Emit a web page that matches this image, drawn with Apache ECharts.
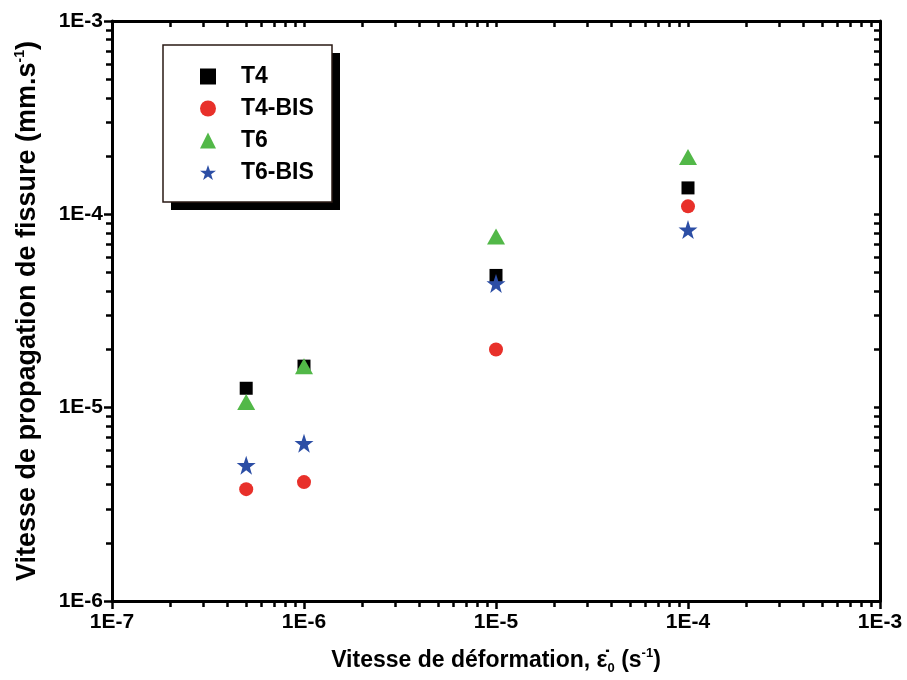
<!DOCTYPE html>
<html>
<head>
<meta charset="utf-8">
<script src="https://cdn.jsdelivr.net/npm/echarts@6/dist/echarts.min.js"></script>
<style>html,body{margin:0;padding:0;background:#fff;}#c{width:907px;height:680px;}</style>
</head>
<body>
<div id="c"></div>
<script>
// ---- data ----
const xValues = [5e-7, 1e-6, 1e-5, 1e-4];
const t4 = [1.26e-5, 1.64e-5, 4.83e-5, 1.37e-4];
const t4bis = [3.79e-6, 4.12e-6, 2.0e-5, 1.10e-4];
const t6 = [1.07e-5, 1.64e-5, 7.67e-5, 1.98e-4];
const t6bis = [5.04e-6, 6.55e-6, 4.39e-5, 8.34e-5];
const seriesNames = ['T4', 'T4-BIS', 'T6', 'T6-BIS'];
const xDecades = [1e-7, 1e-6, 1e-5, 1e-4, 1e-3];
const yDecades = [1e-6, 1e-5, 1e-4, 1e-3];

function minors(decs) {
  const out = [];
  for (let i = 0; i < decs.length - 1; i++) {
    for (let k = 2; k <= 9; k++) out.push(k * decs[i]);
  }
  return out;
}
const xMinor = minors(xDecades);
const yMinor = minors(yDecades);

const FONT = "'Liberation Sans', Arial, sans-serif";
const fmt = v => '1E' + Math.round(Math.log10(v));

const STAR = 'path://M50,0 L61.8,35.1 L98.1,35.1 L68.8,56.7 L79.4,91 L50,70 L20.6,91 L31.2,56.7 L1.9,35.1 L38.2,35.1 Z';

const chart = echarts.init(document.getElementById('c'));

function baseAxis(min, max) {
  return { type: 'log', logBase: 10, min: min, max: max, splitLine: { show: false } };
}

const xMin = 1e-7, xMax = 1e-3, yMin = 1e-6, yMax = 1e-3;

const option = {
  backgroundColor: '#fff',
  animation: false,
  grid: { left: 112, right: 27, top: 21, bottom: 77 },
  graphic: [
    { type: 'rect', z: 1, shape: { x: 171, y: 53, width: 169, height: 157 }, style: { fill: '#000' } },
    { type: 'rect', z: 2, shape: { x: 163, y: 45, width: 169, height: 157 }, style: { fill: '#fff', stroke: '#2a1a14', lineWidth: 1.5 } }
  ],
  legend: {
    orient: 'vertical',
    left: 163, top: 45,
    padding: [20, 10, 10, 37],
    itemGap: 9,
    itemWidth: 16, itemHeight: 16,
    z: 10,
    textStyle: { fontFamily: FONT, fontWeight: 'bold', fontSize: 23, color: '#000', padding: [0, 0, 0, 20], lineHeight: 21 },
    data: seriesNames
  },
  xAxis: [
    Object.assign(baseAxis(xMin, xMax), {
      position: 'bottom',
      name: 'Vitesse de déformation, ε̇{sub|0} (s{sup|-1})',
      nameLocation: 'middle', nameGap: 46,
      nameTextStyle: { fontFamily: FONT, fontWeight: 'bold', fontSize: 23, color: '#000', lineHeight: 28,
        rich: {
          sub: { fontFamily: FONT, fontWeight: 'bold', fontSize: 13, lineHeight: 12, verticalAlign: 'bottom', color: '#000' },
          sup: { fontFamily: FONT, fontWeight: 'bold', fontSize: 13, lineHeight: 12, verticalAlign: 'top', color: '#000' }
        } },
      axisLine: { show: true, onZero: false, lineStyle: { color: '#000', width: 3 } },
      axisTick: { show: true, inside: false, length: 8, lineStyle: { color: '#000', width: 2.5 }, customValues: xDecades },
      axisLabel: { show: true, margin: 11, fontFamily: FONT, fontWeight: 'bold', fontSize: 21, color: '#000', formatter: fmt, customValues: xDecades }
    }),
    Object.assign(baseAxis(xMin, xMax), {
      position: 'bottom',
      axisLine: { show: false, onZero: false },
      axisTick: { show: true, inside: false, length: 6, lineStyle: { color: '#000', width: 2.5 }, customValues: xMinor },
      axisLabel: { show: false }
    }),
    Object.assign(baseAxis(xMin, xMax), {
      position: 'top',
      axisLine: { show: true, onZero: false, lineStyle: { color: '#000', width: 3 } },
      axisTick: { show: true, inside: true, length: 6, lineStyle: { color: '#000', width: 2.5 }, customValues: xMinor.concat(xDecades) },
      axisLabel: { show: false }
    })
  ],
  yAxis: [
    Object.assign(baseAxis(yMin, yMax), {
      position: 'left',
      name: 'Vitesse de propagation de fissure (mm.s{sup|-1})',
      nameLocation: 'middle', nameGap: 69, nameRotate: 90,
      nameTextStyle: { fontFamily: FONT, fontWeight: 'bold', fontSize: 27, color: '#000', lineHeight: 30,
        rich: {
          sup: { fontFamily: FONT, fontWeight: 'bold', fontSize: 14, lineHeight: 13, verticalAlign: 'top', color: '#000' }
        } },
      axisLine: { show: true, onZero: false, lineStyle: { color: '#000', width: 3 } },
      axisTick: { show: true, inside: false, length: 8, lineStyle: { color: '#000', width: 2.5 }, customValues: yDecades },
      axisLabel: { show: true, margin: 9, fontFamily: FONT, fontWeight: 'bold', fontSize: 21, color: '#000', formatter: fmt, customValues: yDecades }
    }),
    Object.assign(baseAxis(yMin, yMax), {
      position: 'left',
      axisLine: { show: false, onZero: false },
      axisTick: { show: true, inside: false, length: 6, lineStyle: { color: '#000', width: 2.5 }, customValues: yMinor },
      axisLabel: { show: false }
    }),
    Object.assign(baseAxis(yMin, yMax), {
      position: 'right',
      axisLine: { show: true, onZero: false, lineStyle: { color: '#000', width: 3 } },
      axisTick: { show: true, inside: true, length: 6, lineStyle: { color: '#000', width: 2.5 }, customValues: yMinor.concat(yDecades) },
      axisLabel: { show: false }
    })
  ],
  series: [
    { name: 'T4', type: 'scatter', symbol: 'rect', symbolSize: 13, itemStyle: { color: '#000', opacity: 1 },
      data: xValues.map((x, i) => [x, t4[i]]) },
    { name: 'T4-BIS', type: 'scatter', symbol: 'circle', symbolSize: 14, itemStyle: { color: '#e8302a', opacity: 1 },
      data: xValues.map((x, i) => [x, t4bis[i]]) },
    { name: 'T6', type: 'scatter', symbol: 'triangle', symbolSize: [18, 16], itemStyle: { color: '#52b848', opacity: 1 },
      data: xValues.map((x, i) => [x, t6[i]]) },
    { name: 'T6-BIS', type: 'scatter', symbol: STAR, symbolSize: 19, itemStyle: { color: '#2c4ea5', opacity: 1 },
      data: xValues.map((x, i) => [x, t6bis[i]]) }
  ]
};
chart.setOption(option);
</script>
</body>
</html>
